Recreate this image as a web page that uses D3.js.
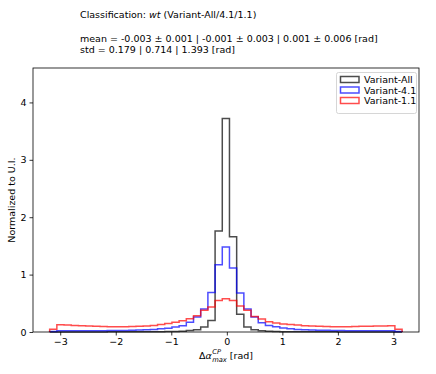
<!DOCTYPE html>
<html>
<head>
<meta charset="utf-8">
<script src="https://cdn.jsdelivr.net/npm/d3@7"></script>
<style>
  body { margin: 0; background: #fff; }
  svg { display: block; font-family: "DejaVu Sans", sans-serif; }
</style>
</head>
<body>
<div id="chart"></div>
<script>
// histogram binning (49 bins)
var binLow = -3.19,
    binWidth = 0.1295,
    binCount = 49;

var seriesNames = ["Variant-All", "Variant-4.1", "Variant-1.1"];

var variantAll = [0.002,0.002,0.002,0.002,0.002,0.002,0.002,0.002,0.003,0.003,0.003,0.003,0.004,0.004,0.005,0.006,0.008,0.01,
  0.015,0.025,0.04,0.087,0.2,1.76,3.72,1.66,0.31,0.087,0.04,0.02,0.012,
  0.008,0.006,0.005,0.004,0.004,0.003,0.003,0.003,0.003,0.002,0.002,0.002,0.002,0.002,0.002,0.002,0.002,0.001];

var variant41 = [0.01,0.02,0.02,0.02,0.02,0.02,0.02,0.022,0.025,0.025,0.028,0.03,0.035,0.04,0.045,0.055,0.065,0.085,
  0.11,0.17,0.26,0.40,0.69,1.17,1.48,1.115,0.68,0.40,0.26,0.16,0.115,
  0.09,0.07,0.055,0.045,0.04,0.035,0.03,0.03,0.025,0.025,0.022,0.02,0.02,0.02,0.02,0.02,0.02,0.01];

var variant11 = [0.05,0.125,0.12,0.115,0.11,0.105,0.1,0.095,0.09,0.09,0.09,0.095,0.1,0.105,0.115,0.13,0.15,0.17,
  0.197,0.23,0.285,0.377,0.435,0.55,0.58,0.55,0.455,0.38,0.27,0.225,0.18,
  0.155,0.14,0.13,0.12,0.11,0.105,0.1,0.095,0.09,0.09,0.09,0.095,0.1,0.1,0.105,0.105,0.11,0.05];

var xTicks = [-3, -2, -1, 0, 1, 2, 3];
var yTicks = [0, 1, 2, 3, 4];

var titleLines = [
  "mean = -0.003 \u00b1 0.001 | -0.001 \u00b1 0.003 | 0.001 \u00b1 0.006 [rad]",
  "std = 0.179 | 0.714 | 1.393 [rad]"
];

var colors = ["#000000", "#0000ff", "#ff0000"];

var canvasWidth = 436, canvasHeight = 374;
var plotLeft = 33, plotRight = 419, plotTop = 68, plotBottom = 332;

var svg = d3.select("#chart").append("svg")
  .attr("width", canvasWidth)
  .attr("height", canvasHeight);

svg.append("rect").attr("width", canvasWidth).attr("height", canvasHeight).attr("fill", "#fff");

var x = d3.scaleLinear().domain([-3.49, 3.46]).range([plotLeft, plotRight]);
var y = d3.scaleLinear().domain([0, 4.6]).range([plotBottom, plotTop]);

var edges = d3.range(binCount + 1).map(function(i) { return binLow + i * binWidth; });

var stepPath = function(vals) {
  var pts = [[x(edges[0]), y(0)]];
  vals.forEach(function(v, i) {
    pts.push([x(edges[i]), y(v)]);
    pts.push([x(edges[i + 1]), y(v)]);
  });
  pts.push([x(edges[binCount]), y(0)]);
  return d3.line()(pts);
};

var plot = svg.append("g");
[variantAll, variant41, variant11].forEach(function(vals, i) {
  plot.append("path")
    .attr("d", stepPath(vals))
    .attr("fill", "none")
    .attr("stroke", colors[i])
    .attr("stroke-opacity", 0.7)
    .attr("stroke-width", 1.5)
    .attr("stroke-linejoin", "miter");
});

// axes
var fmt = function(d) { return d < 0 ? "\u2212" + Math.abs(d) : String(d); };

var xAxis = svg.append("g")
  .attr("transform", "translate(0," + plotBottom + ")")
  .call(d3.axisBottom(x).tickValues(xTicks).tickFormat(fmt).tickSizeOuter(0).tickSize(3.5).tickPadding(3));
var yAxis = svg.append("g")
  .attr("transform", "translate(" + plotLeft + ",0)")
  .call(d3.axisLeft(y).tickValues(yTicks).tickFormat(fmt).tickSizeOuter(0).tickSize(3.5).tickPadding(3));

[xAxis, yAxis].forEach(function(a) {
  a.select(".domain").remove();
  a.selectAll("text").attr("font-size", 9.5).attr("fill", "#000").attr("font-family", "DejaVu Sans");
  a.selectAll("line").attr("stroke", "#000").attr("stroke-width", 0.8);
});

svg.append("rect")
  .attr("x", plotLeft).attr("y", plotTop)
  .attr("width", plotRight - plotLeft).attr("height", plotBottom - plotTop)
  .attr("fill", "none").attr("stroke", "#000").attr("stroke-width", 0.8);

// titles
var t1 = svg.append("text").attr("x", 80).attr("y", 18).attr("font-size", 9.5);
t1.append("tspan").text("Classification: ");
t1.append("tspan").attr("font-style", "italic").text("wt");
t1.append("tspan").text(" (Variant-All/4.1/1.1)");

titleLines.forEach(function(s, i) {
  svg.append("text").attr("x", 80).attr("y", 42 + i * 11).attr("font-size", 9.5).text(s);
});

// y label
svg.append("text")
  .attr("transform", "translate(15," + ((plotTop + plotBottom) / 2) + ") rotate(-90)")
  .attr("text-anchor", "middle")
  .attr("font-size", 9.5)
  .text("Normalized to U.I.");

// x label: Δα^CP_max [rad]
var xl = svg.append("g");
var base = xl.append("text").attr("y", 359).attr("font-size", 9.5);
base.append("tspan").text("\u0394");
base.append("tspan").attr("font-style", "italic").text("\u03b1");
var w0 = base.node().getComputedTextLength();
var sup = xl.append("text").attr("x", w0 + 0.5).attr("y", 354).attr("font-size", 6.7).attr("font-style", "italic").text("CP");
var sub = xl.append("text").attr("x", w0 + 0.5).attr("y", 362).attr("font-size", 6.7).attr("font-style", "italic").text("max");
var w1 = Math.max(sup.node().getComputedTextLength(), sub.node().getComputedTextLength());
var rad = xl.append("text").attr("x", w0 + 0.5 + w1).attr("y", 359).attr("font-size", 9.5).text("\u00a0[rad]");
var wt = w0 + 0.5 + w1 + rad.node().getComputedTextLength();
xl.attr("transform", "translate(" + ((plotLeft + plotRight) / 2 - wt / 2) + ",0)");

// legend
var legend = svg.append("g");
legend.append("rect")
  .attr("x", 336.5).attr("y", 72.5).attr("width", 80).attr("height", 41).attr("rx", 2)
  .attr("fill", "#fff").attr("fill-opacity", 0.8)
  .attr("stroke", "#ccc").attr("stroke-width", 0.8);
seriesNames.forEach(function(name, i) {
  var cy = 79.5 + i * 10.5;
  legend.append("rect")
    .attr("x", 340.5).attr("y", cy - 3).attr("width", 18.5).attr("height", 6)
    .attr("fill", "none").attr("stroke", colors[i]).attr("stroke-opacity", 0.7).attr("stroke-width", 1.5);
  legend.append("text").attr("x", 364).attr("y", cy + 3.5).attr("font-size", 9.5).text(name);
});
</script>
</body>
</html>
